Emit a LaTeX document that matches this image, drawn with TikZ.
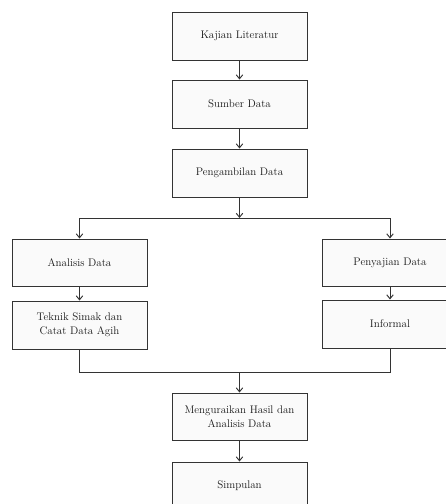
\documentclass[tikz,border=0pt]{standalone}
\usetikzlibrary{arrows.meta}
\begin{document}
\begin{tikzpicture}[x=1pt,y=1pt,
  box/.style={draw=black!80, line width=0.95pt, fill=gray!4, text=black!90,
    minimum width=135pt, minimum height=48pt, align=center, inner sep=2pt,
    font=\fontsize{11}{14.5}\selectfont},
  arr/.style={-{Straight Barb[length=4pt,width=6.5pt]}, line width=0.95pt, draw=black!80},
  ln/.style={line width=0.95pt, draw=black!80}]
\useasboundingbox (0,0) rectangle (446,-504);
\clip (0,0) rectangle (446,-504);
\node[box] (kaj) at (239.5,-36) {Kajian Literatur};
\node[box] (sum) at (239.5,-104) {Sumber Data};
\node[box] (pen) at (239.5,-173) {Pengambilan Data};
\node[box, minimum height=47pt] (ana) at (79.5,-262.5) {Analisis Data};
\node[box] (tek) at (79.5,-325) {Teknik Simak dan\\Catat Data Agih};
\node[box, minimum height=47pt] (pys) at (390,-262.5) {Penyajian Data};
\node[box] (inf) at (390,-324) {Informal};
\node[box, minimum height=47pt] (men) at (239.5,-416.5) {Menguraikan Hasil dan\\Analisis Data};
\node[box] (sim) at (239.5,-486) {Simpulan};
\coordinate (br) at (239.5,-218);
\coordinate (mg) at (239.5,-372);
\draw[arr] (kaj) -- (sum);
\draw[arr] (sum) -- (pen);
\draw[arr] (pen) -- (br);
\draw[arr] (br) -| (ana.north);
\draw[arr] (br) -| (pys.north);
\draw[arr] (ana) -- (tek);
\draw[arr] (pys) -- (inf);
\draw[ln] (tek.south) |- (mg);
\draw[ln] (inf.south) |- (mg);
\draw[arr] (mg) -- (men);
\draw[arr] (men) -- (sim);
\end{tikzpicture}
\end{document}
